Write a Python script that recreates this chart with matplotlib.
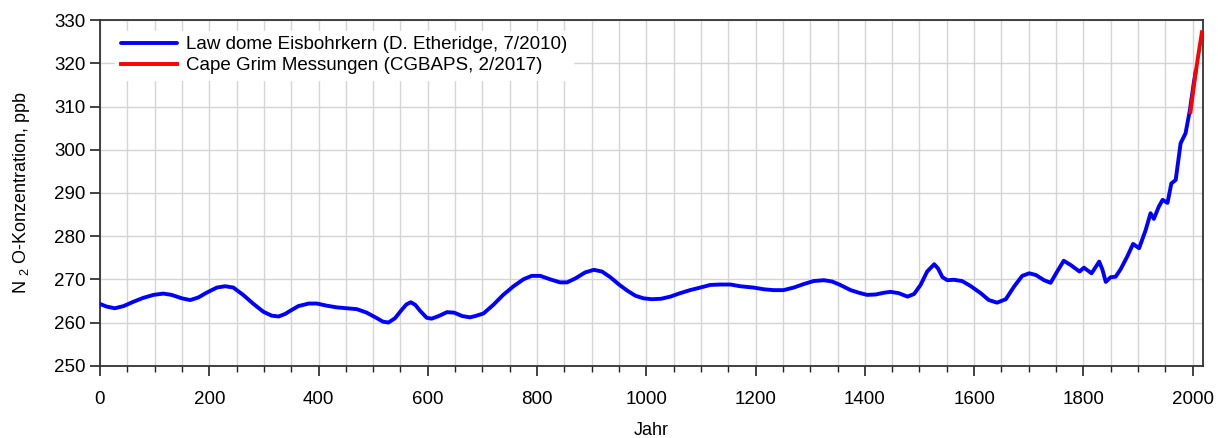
import numpy as np
import matplotlib.pyplot as plt
from matplotlib.ticker import MultipleLocator

plt.rcParams['font.family'] = ['Liberation Sans', 'DejaVu Sans']
plt.rcParams['mathtext.fontset'] = 'custom'
plt.rcParams['mathtext.rm'] = 'Liberation Sans'
plt.rcParams['mathtext.default'] = 'regular'

# Law Dome ice core N2O record (year, ppb)
law_years = [0, 12, 27, 43, 61, 79, 98, 116, 131, 150, 165, 180, 195, 214,
             229, 244, 262, 281, 299, 314, 327, 339, 348, 363, 382, 397,
             415, 434, 452, 470, 488, 507, 518, 528, 540, 552, 561, 569,
             577, 586, 598, 607, 620, 635, 648, 663, 677, 687, 702, 720,
             738, 757, 775, 790, 806, 824, 842, 855, 870, 888, 904, 919,
             934, 950, 965, 980, 995, 1010, 1027, 1044, 1062, 1080, 1099,
             1117, 1135, 1154, 1172, 1196, 1215, 1233, 1251, 1270, 1288,
             1306, 1325, 1340, 1355, 1374, 1389, 1404, 1420, 1435, 1447,
             1462, 1478, 1490, 1502, 1514, 1527, 1534, 1542, 1551, 1563,
             1578, 1593, 1612, 1627, 1642, 1658, 1673, 1688, 1701, 1713,
             1728, 1740, 1752, 1764, 1777, 1793, 1801, 1815, 1829, 1835,
             1841, 1850, 1859, 1868, 1880, 1891, 1902, 1914, 1923, 1929,
             1938, 1945, 1954, 1961, 1969, 1978, 1987, 1995, 2002, 2006]
law_n2o = [264.3, 263.7, 263.3, 263.8, 264.8, 265.7, 266.4, 266.7, 266.4,
           265.6, 265.2, 265.8, 266.9, 268.1, 268.4, 268.1, 266.4, 264.3,
           262.5, 261.6, 261.4, 262.0, 262.7, 263.8, 264.4, 264.4, 263.9,
           263.5, 263.3, 263.1, 262.3, 261.0, 260.2, 260.0, 261.0, 262.9,
           264.2, 264.7, 264.1, 262.7, 261.1, 260.9, 261.5, 262.4, 262.3,
           261.5, 261.2, 261.5, 262.1, 264.1, 266.4, 268.4, 270.0, 270.8,
           270.8, 270.0, 269.3, 269.3, 270.2, 271.6, 272.2, 271.8, 270.5,
           268.8, 267.4, 266.2, 265.6, 265.4, 265.5, 266.0, 266.8, 267.5,
           268.1, 268.7, 268.8, 268.8, 268.4, 268.1, 267.7, 267.5, 267.5,
           268.1, 268.9, 269.6, 269.8, 269.5, 268.7, 267.5, 266.9, 266.4,
           266.5, 266.9, 267.1, 266.8, 266.0, 266.6, 268.7, 271.8, 273.5,
           272.5, 270.5, 269.8, 269.9, 269.6, 268.5, 266.8, 265.2, 264.6,
           265.4, 268.3, 270.8, 271.4, 271.0, 269.8, 269.2, 271.8, 274.3,
           273.3, 271.8, 272.7, 271.4, 274.1, 272.2, 269.4, 270.5, 270.6,
           272.3, 275.2, 278.2, 277.2, 281.4, 285.3, 284.0, 286.8, 288.4,
           287.7, 292.2, 293.0, 301.5, 303.8, 309.2, 315.4, 318.4]

# Cape Grim measurements
cg_years = [1996, 2000, 2005, 2010, 2014, 2017]
cg_n2o = [308.7, 312.6, 317.4, 321.6, 324.8, 327.2]

fig = plt.figure(figsize=(12.18, 4.38), dpi=100)
ax = fig.add_axes([0.0821, 0.165, 0.9056, 0.789])

ax.plot(law_years, law_n2o, color='#0000ff', lw=2.8, solid_joinstyle='round',
        solid_capstyle='round',
        label='Law dome Eisbohrkern (D. Etheridge, 7/2010)', zorder=3)
ax.plot(cg_years, cg_n2o, color='#ff0000', lw=2.8,
        label='Cape Grim Messungen (CGBAPS, 2/2017)', zorder=4)

ax.set_xlim(0, 2019)
ax.set_ylim(250, 330)
ax.xaxis.set_major_locator(MultipleLocator(200))
ax.xaxis.set_minor_locator(MultipleLocator(50))
ax.yaxis.set_major_locator(MultipleLocator(10))

ax.grid(which='both', axis='x', color='#d4d4d4', lw=1)
ax.grid(which='major', axis='y', color='#d4d4d4', lw=1)
ax.set_axisbelow(True)

ax.tick_params(which='major', direction='out', length=7, width=1.2,
               labelsize=13.5, color='#222222')
ax.tick_params(which='minor', direction='out', length=4, width=1,
               color='#222222')
ax.tick_params(axis='x', pad=11)
for side in ax.spines.values():
    side.set_color('#333333')
    side.set_linewidth(1.3)

ax.set_xlabel('Jahr', fontsize=13, labelpad=10)
ax.set_ylabel('N $_{2}$ O-Konzentration, ppb', fontsize=13, labelpad=16)

leg = ax.legend(loc='upper left', bbox_to_anchor=(0.005, 0.997), fontsize=13.5,
                frameon=True, fancybox=False, edgecolor='white',
                facecolor='white', framealpha=1, handlelength=3.0,
                handletextpad=0.5, borderpad=0.3, labelspacing=0.2)

fig.savefig('out.png', dpi=100)
